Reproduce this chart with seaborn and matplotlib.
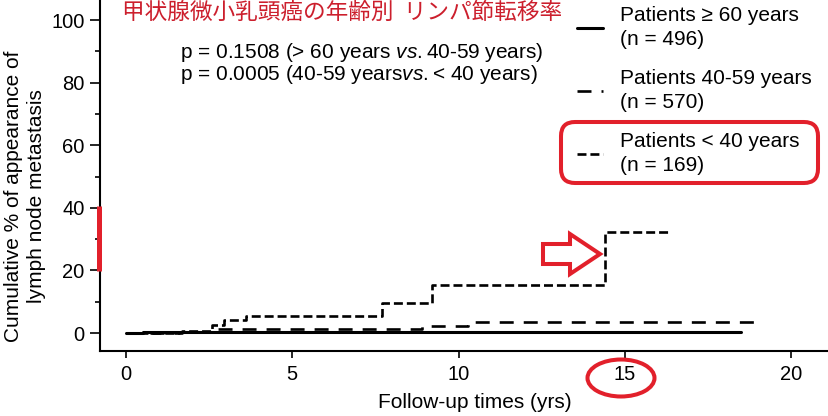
#!/usr/bin/env python3
# -*- coding: utf-8 -*-

import seaborn as sns
import pandas as pd
import matplotlib.pyplot as plt
import numpy as np
from matplotlib.patches import FancyBboxPatch, Ellipse, Polygon
from matplotlib.lines import Line2D
from matplotlib.transforms import IdentityTransform

sns.set_style("ticks")
plt.rcParams['font.family'] = ['Liberation Sans', 'DejaVu Sans']
plt.rcParams['mathtext.fontset'] = 'custom'
plt.rcParams['mathtext.it'] = 'Liberation Sans:italic'
plt.rcParams['mathtext.rm'] = 'Liberation Sans'
for k in ['text.color', 'axes.labelcolor', 'xtick.color', 'ytick.color', 'axes.edgecolor']:
    plt.rcParams[k] = 'black'

# Kaplan-Meier style step data (years, cumulative %)
groups = ['ge60', '40-59', 'lt40']
labels = ['Patients \u2265 60 years\n(n = 496)',
          'Patients 40-59 years\n(n = 570)',
          'Patients < 40 years\n(n = 169)']
time_ge60 = [0, 0.5, 2.6, 18.5]
cum_ge60 = [0, 0.2, 0.4, 0.4]
time_40_59 = [0, 1.6, 2.6, 8.9, 10.3, 18.9]
cum_40_59 = [0, 0.4, 1.3, 2.2, 3.4, 3.4]
time_lt40 = [0, 1.7, 2.6, 2.95, 3.6, 7.7, 9.2, 14.4, 16.4]
cum_lt40 = [0, 0.6, 2.5, 4.1, 5.3, 9.5, 15.3, 32.4, 32.4]

title_jp = '甲状腺微小乳頭癌の年齢別  リンパ節転移率'
p_line1 = r'p = 0.1508 (> 60 years $\mathit{vs.}$40-59 years)'
p_line2 = r'p = 0.0005 (40-59 years$\mathit{vs.}$< 40 years)'

df = pd.concat([
    pd.DataFrame({'t': time_ge60, 'cum': cum_ge60, 'grp': groups[0]}),
    pd.DataFrame({'t': time_40_59, 'cum': cum_40_59, 'grp': groups[1]}),
    pd.DataFrame({'t': time_lt40, 'cum': cum_lt40, 'grp': groups[2]}),
], ignore_index=True)

W, H = 829, 416
fig = plt.figure(figsize=(W/100, H/100), dpi=100)
ax = fig.add_axes([100/W, 1-351/H, 729/W, 351/H])

dashes = {groups[0]: '', groups[1]: (5.3, 3.8), groups[2]: (3.4, 1.5)}
sns.lineplot(data=df, x='t', y='cum', style='grp', dashes=dashes, color='black',
             linewidth=1.9, drawstyle='steps-post', estimator=None, legend=False, ax=ax)
lines = ax.get_lines()
lines[0].set_linewidth(2.2)

ax.set_xlim(-0.78, 21.14)
ax.set_ylim(-5.75, 106.4)
ax.set_xticks([0, 5, 10, 15, 20])
ax.set_yticks(np.arange(0, 101, 20))
ax.set_yticks(np.arange(10, 100, 20), minor=True)
sns.despine(ax=ax)
for s in ['left', 'bottom']:
    ax.spines[s].set_linewidth(1.5)
ax.tick_params(axis='both', which='major', labelsize=14.5, width=1.2, color='black')
ax.tick_params(axis='y', which='major', length=7, pad=4)
ax.tick_params(axis='y', which='minor', length=3.6, width=1.2, left=True)
ax.tick_params(axis='x', which='major', length=5, pad=5)

ax.set_xlabel('Follow-up times (yrs)', fontsize=15)
ax.set_ylabel('Cumulative % of appearance of\nlymph node metastasis', fontsize=15, linespacing=1.25)
ax.xaxis.label.set_verticalalignment('center')
ax.xaxis.set_label_coords(0.514, -0.148)
ax.yaxis.label.set_verticalalignment('center')
ax.yaxis.set_label_coords(-0.103, 0.44)

leg = ax.legend(lines, labels, loc='upper left', bbox_to_anchor=(577/W, 1-6/H),
                bbox_transform=fig.transFigure, frameon=False, fontsize=15,
                handlelength=1.25, handletextpad=0.8, labelspacing=0.97,
                borderpad=0, borderaxespad=0)
for t in leg.get_texts():
    t.set_linespacing(1.32)

fig.text(122/W, 1-12.5/H, title_jp, color='#cc1f2d', fontsize=16.3,
         family=['Noto Sans CJK JP', 'DejaVu Sans'], ha='left', va='center')
fig.text(180/W, 1-52/H, p_line1, fontsize=15, ha='left', va='center')
fig.text(180/W, 1-75/H, p_line2, fontsize=15, ha='left', va='center')

# red highlight marks drawn in pixel coordinates
red = '#e2202b'
tr = IdentityTransform()
fig.add_artist(FancyBboxPatch((561, H-183), 257, 61, boxstyle='round,pad=0,rounding_size=14',
                              fill=False, ec=red, lw=2.9, transform=tr))
fig.add_artist(Ellipse((621, H-378), 67, 37, fill=False, ec=red, lw=2.9, transform=tr))
arrow = [(543, 244), (570, 244), (570, 234), (600, 254), (570, 274), (570, 264), (543, 264)]
fig.add_artist(Polygon([(x, H-y) for x, y in arrow], closed=True, fill=False, ec=red,
                       lw=2.9, joinstyle='miter', transform=tr))
fig.add_artist(Line2D([99, 99], [H-206, H-271], color=red, lw=3.6, transform=tr,
                      solid_capstyle='butt'))

fig.savefig('out.png', dpi=100)
